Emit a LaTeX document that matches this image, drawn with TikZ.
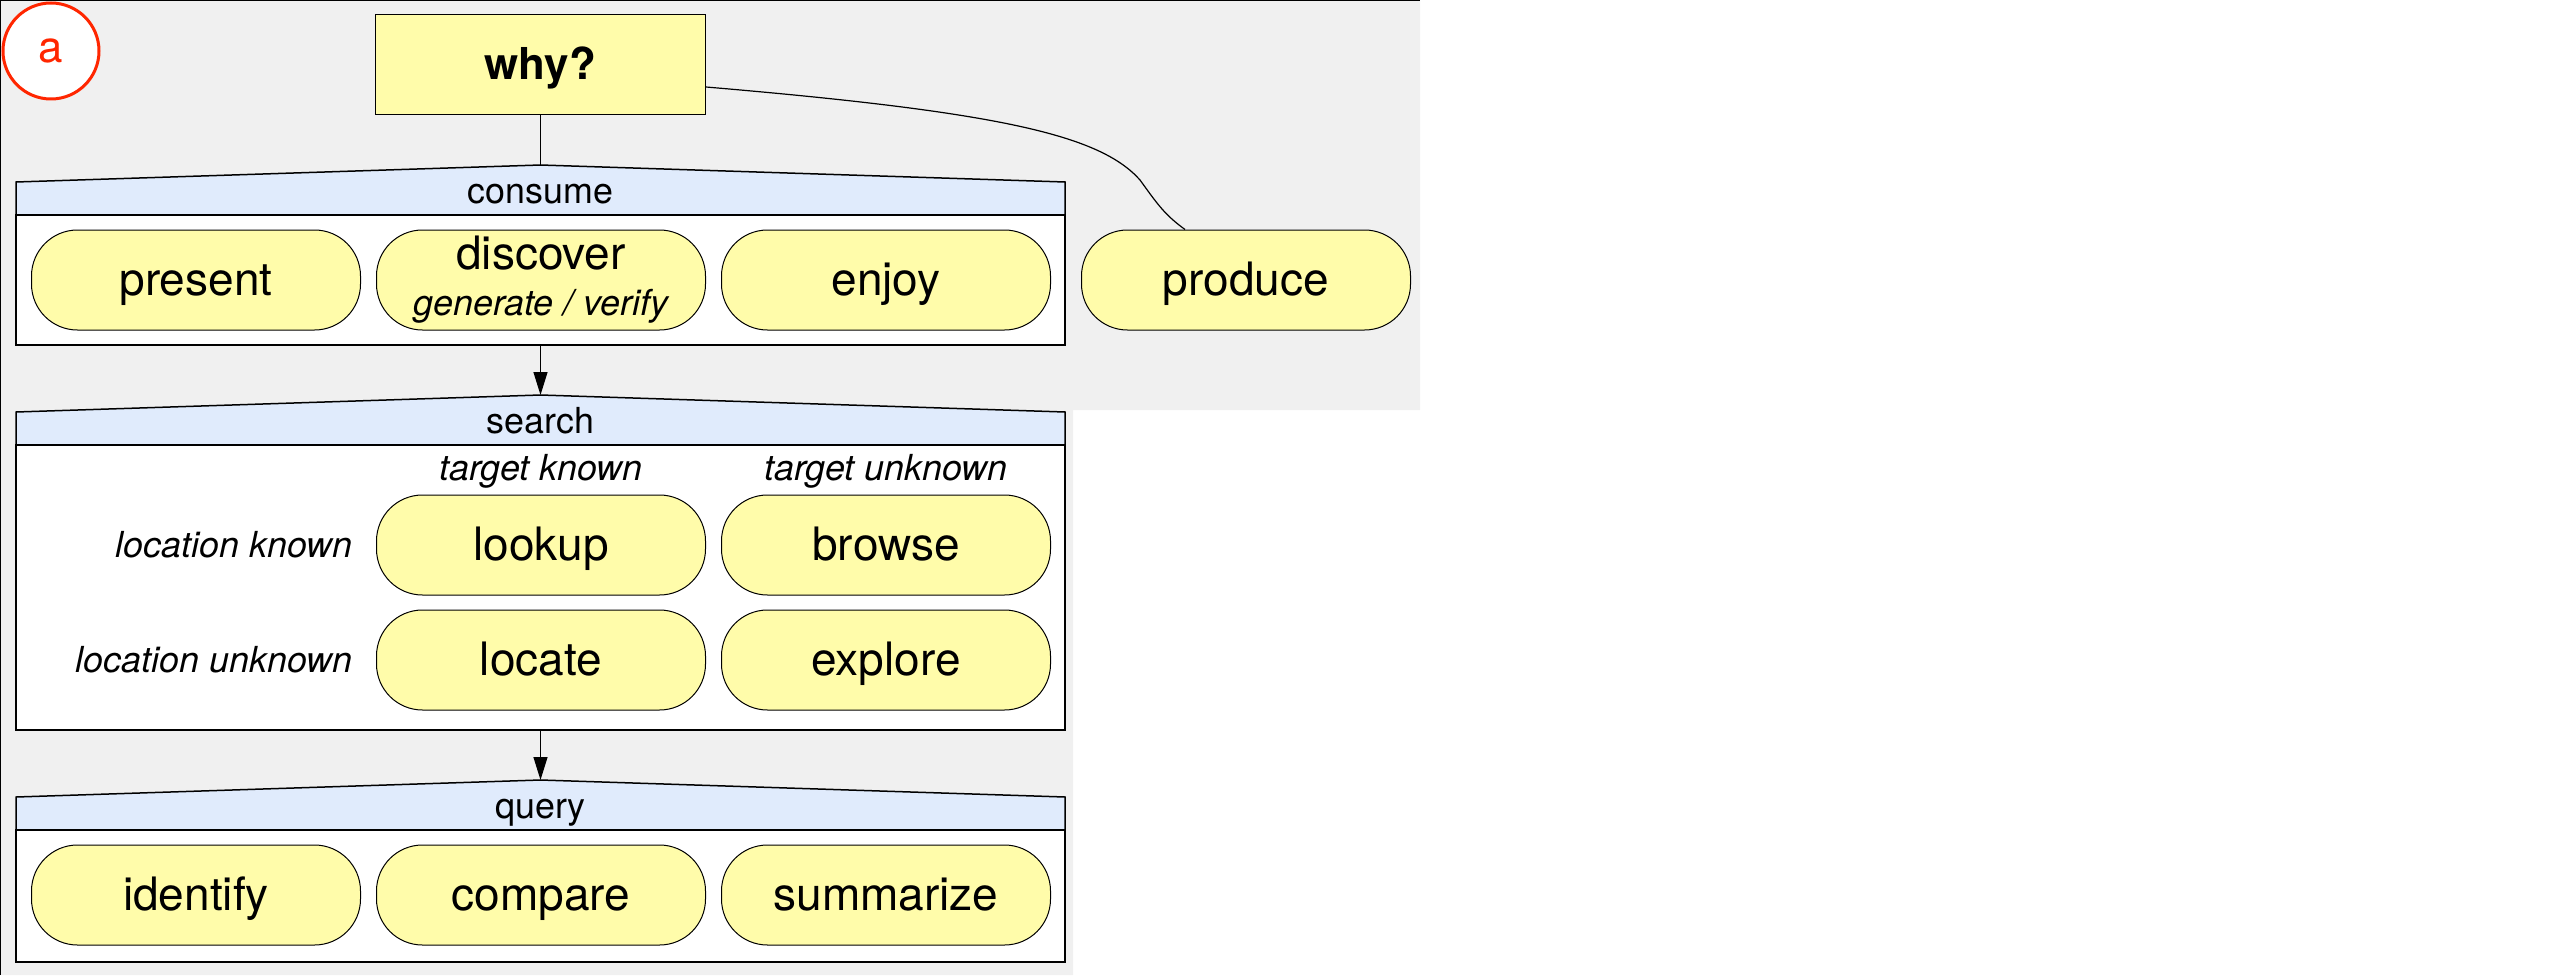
\documentclass[tikz,border=0pt]{standalone}
\usepackage{fontspec}
\setmainfont{TeX Gyre Heros}
\usetikzlibrary{positioning,arrows.meta,calc}
\definecolor{panelgray}{RGB}{240,240,240}
\definecolor{pillyellow}{RGB}{255,252,170}
\definecolor{headblue}{RGB}{224,235,252}
\definecolor{markred}{RGB}{255,38,0}
\newcommand{\pillfont}{\fontsize{13.1}{15.5}\selectfont}
\newcommand{\whyfont}{\fontsize{12.5}{15}\selectfont\bfseries}
\newcommand{\notefont}{\fontsize{10.2}{12}\selectfont}

\begin{document}
\begin{tikzpicture}[x=0.1mm, y=-0.1mm,
  pill/.style={rectangle, draw, fill=pillyellow, rounded corners=4.6mm, line width=0.1mm,
               minimum width=32.9mm, minimum height=10mm, inner sep=0pt, align=center, font=\pillfont,
               text height=3.8mm, text depth=0.8mm},
  head/.style={draw, fill=headblue, line width=0.15mm},
  groupbody/.style={rectangle, draw, fill=white, line width=0.15mm, minimum width=104.9mm, inner sep=0pt},
  grouplabel/.style={anchor=base, font=\notefont, inner sep=0pt},
  note/.style={font=\notefont\itshape, inner sep=0pt},
  arrow/.style={-{Triangle[length=2.3mm, width=1.4mm]}, line width=0.12mm},
  link/.style={line width=0.12mm}
]
  \useasboundingbox (0,0) rectangle (2565,975);
  \fill[panelgray] (0,0) -- (1420,0) -- (1420,410) -- (1073,410) -- (1073,975) -- (0,975) -- cycle;
  \draw[line width=0.3mm] (0,975) -- (0,0) -- (1420,0);

  \node[circle, draw=markred, fill=white, line width=0.3mm, minimum size=9.6mm, inner sep=0pt,
        text=markred, font=\fontsize{12.5}{15}\selectfont] (mark) at (51,51) {a};

  \node[rectangle, draw, fill=pillyellow, line width=0.1mm, minimum width=33mm, minimum height=10mm,
        text height=3.8mm, text depth=0.8mm, font=\whyfont] (why) at (540.5,65) {why?};

  \draw[head] (16,215) -- (16,182) -- (540.5,165) coordinate (consume-top) -- (1065,182) -- (1065,215) -- cycle;
  \node[groupbody, minimum height=13mm] (consume-body) at (540.5,280) {};
  \node[grouplabel] (consume-label) at (540.5,203) {consume};
  \node[pill] (present) at (196,280) {present};
  \node[pill, text height=, text depth=] (discover) at (541,280) {discover\\[-2.4pt]{\notefont\itshape generate / verify}};
  \node[pill] (enjoy) at (886,280) {enjoy};
  \node[pill] (produce) at (1246,280) {produce};

  \draw[head] (16,445) -- (16,412) -- (540.5,395) coordinate (search-top) -- (1065,412) -- (1065,445) -- cycle;
  \node[groupbody, minimum height=28.5mm] (search-body) at (540.5,587.5) {};
  \node[grouplabel] (search-label) at (540.5,433) {search};
  \node[note, anchor=base] (target-known) at (541,480) {target known};
  \node[note, anchor=base] (target-unknown) at (886,480) {target unknown};
  \node[pill] (lookup) at (541,545) {lookup};
  \node[pill] (browse) at (886,545) {browse};
  \node[pill] (locate) at (541,660) {locate};
  \node[pill] (explore) at (886,660) {explore};
  \node[note, left=2.3mm of lookup] (location-known) {location known};
  \node[note, left=2.3mm of locate] (location-unknown) {location unknown};

  \draw[head] (16,830) -- (16,797) -- (540.5,780) coordinate (query-top) -- (1065,797) -- (1065,830) -- cycle;
  \node[groupbody, minimum height=13.2mm] (query-body) at (540.5,896) {};
  \node[grouplabel] (query-label) at (540.5,818) {query};
  \node[pill] (identify) at (196,895) {identify};
  \node[pill] (compare) at (541,895) {compare};
  \node[pill] (summarize) at (886,895) {summarize};

  \draw[link] (why) -- (consume-top);
  \draw[link] ([yshift=-2.2mm]why.east) .. controls (1000,112) and (1100,135) .. (1140,180)
    .. controls (1158,205) and (1165,215) .. ([xshift=-6.1mm]produce.north);
  \draw[arrow] (consume-body) -- (search-top);
  \draw[arrow] (search-body) -- (query-top);
\end{tikzpicture}
\end{document}
